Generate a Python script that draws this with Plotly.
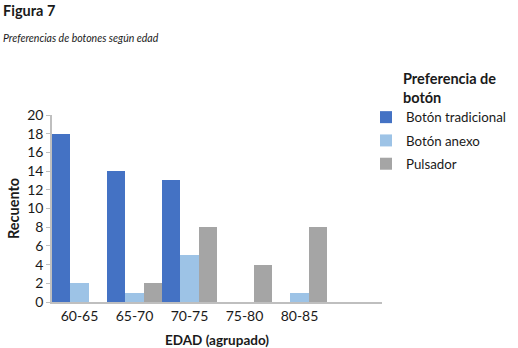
import plotly.graph_objects as go

categories = ["60-65", "65-70", "70-75", "75-80", "80-85"]
tradicional = [18, 14, 13, 0, 0]
anexo = [2, 1, 5, 0, 1]
pulsador = [0, 2, 8, 4, 8]
y_ticks = [0, 2, 4, 6, 8, 10, 12, 14, 16, 18, 20]

FONT = "Lato"
L, R, T, B = 52, 136, 115, 46
W, H = 518, 348
pw, ph = W - L - R, H - T - B


def px_x(x):
    return (x - L) / pw


def px_y(y):
    return (H - B - y) / ph


fig = go.Figure()
for name, vals, col in [
    ("Botón tradicional", tradicional, "#4472C4"),
    ("Botón anexo", anexo, "#9DC3E6"),
    ("Pulsador", pulsador, "#A5A5A5"),
]:
    fig.add_trace(go.Bar(x=categories, y=vals, name=name, legendgroup=name,
                         marker=dict(color=col, line=dict(width=0))))

fig.update_layout(
    width=W, height=H,
    margin=dict(l=L, r=R, t=T, b=B, autoexpand=False),
    paper_bgcolor="white", plot_bgcolor="white",
    barmode="group", bargap=0.0, bargroupgap=0.0,
    font=dict(family=FONT, color="#1a1a1a", size=14),
    showlegend=True,
    legend=dict(
        x=px_x(366), y=px_y(102), xanchor="left", yanchor="top",
        font=dict(size=13.3), itemwidth=30, tracegroupgap=3,
    ),
    xaxis=dict(
        type="category", range=[-0.5, 5.5], showline=True, linecolor="#bfbfbf",
        linewidth=1.5, showgrid=False, ticks="", tickfont=dict(size=14),
        title=dict(text="<b>EDAD (agrupado)</b>", font=dict(size=13.5), standoff=15),
    ),
    yaxis=dict(
        range=[0, 20], tickvals=y_ticks, showline=True, linecolor="#bfbfbf",
        linewidth=1.5, showgrid=False, ticks="outside", ticklen=4, tickcolor="#bfbfbf",
        tickfont=dict(size=14), zeroline=False,
        title=dict(text="<b>Recuento</b>", font=dict(size=14.5), standoff=4),
    ),
    annotations=[
        dict(text="<b>Figura 7</b>", x=px_x(1), y=px_y(0),
             xref="paper", yref="paper", xanchor="left", yanchor="top",
             showarrow=False, font=dict(size=14.5)),
        dict(text="<i>Preferencias de botones según edad</i>", x=px_x(1),
             y=px_y(30), xref="paper", yref="paper", xanchor="left",
             yanchor="top", showarrow=False, font=dict(size=10.5)),
        dict(text="<b>Preferencia de<br>botón</b>", x=px_x(401), y=px_y(68),
             xref="paper", yref="paper", xanchor="left", yanchor="top", align="left",
             showarrow=False, font=dict(size=14.5)),
    ],
)
fig.write_html("out.html", post_script="document.body.style.margin='0';",
               config={"displayModeBar": False})
